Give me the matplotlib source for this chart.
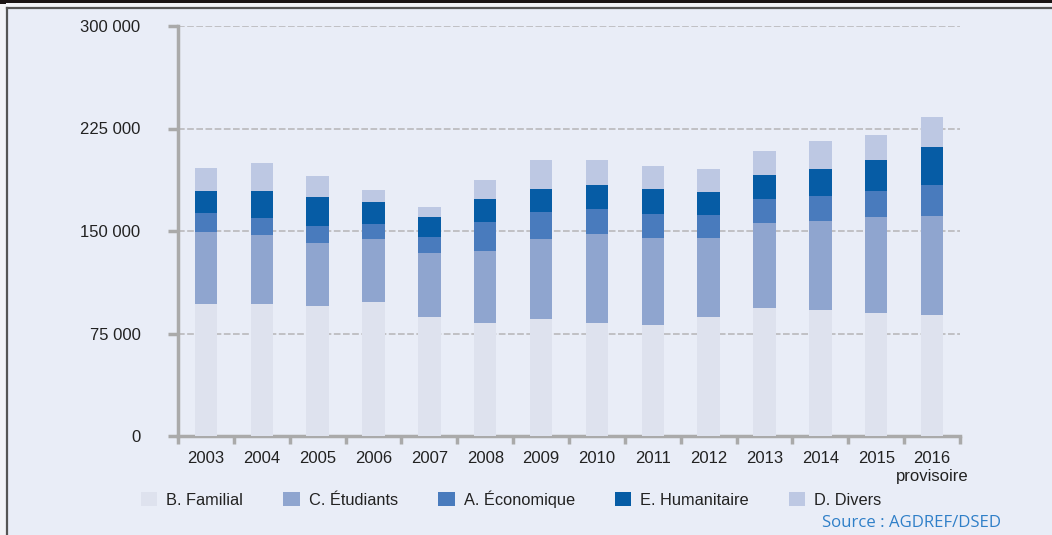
import matplotlib
matplotlib.use("Agg")
import matplotlib.pyplot as plt
from matplotlib.patches import Rectangle
from matplotlib.lines import Line2D
import numpy as np

plt.rcParams['font.family'] = ['Liberation Sans', 'DejaVu Sans']

years = ["2003", "2004", "2005", "2006", "2007", "2008", "2009", "2010",
         "2011", "2012", "2013", "2014", "2015", "2016\nprovisoire"]
familial = [96400, 96400, 94900, 97800, 86900, 82500, 85400, 82500,
            81000, 86900, 93400, 92000, 89800, 88300]
etudiants = [52600, 50400, 46000, 46000, 46700, 52600, 58400, 65000,
             64200, 57700, 62800, 65000, 70100, 73000]
economique = [13900, 12400, 12400, 11000, 11700, 21200, 20400, 18300,
              17500, 16800, 17500, 18300, 19700, 22600]
humanitaire = [16100, 20400, 21900, 16100, 14600, 16800, 16800, 17500,
               18300, 17500, 17500, 20400, 22600, 27700]
divers = [16800, 20400, 15300, 8800, 8000, 13900, 21200, 18300,
          16800, 16800, 17500, 20400, 18300, 21900]

series = [("B. Familial", familial, "#DEE2EE"),
          ("C. Étudiants", etudiants, "#8FA5CF"),
          ("A. Économique", economique, "#497BBD"),
          ("E. Humanitaire", humanitaire, "#065CA5"),
          ("D. Divers", divers, "#BDC8E3")]

bg = "#E9EDF7"
W, H = 1052, 535
fig = plt.figure(figsize=(W / 100, H / 100), dpi=100)
fig.patch.set_facecolor(bg)

# frame decorations
fig.add_artist(Rectangle((0, 1 - 3.5 / H), 1, 3.5 / H, transform=fig.transFigure,
                         facecolor="#1A1414", edgecolor="none"))
fig.add_artist(Rectangle((0, 0), 6 / W, 1 - 3.5 / H, transform=fig.transFigure,
                         facecolor="#F2F3F7", edgecolor="none"))
fig.add_artist(Rectangle((6 / W, 1 - 9 / H), 1, 5.5 / H, transform=fig.transFigure,
                         facecolor="#F2F3F7", edgecolor="none"))
fig.add_artist(Line2D([6.5 / W, 6.5 / W], [0, 1 - 8 / H], transform=fig.transFigure,
                      color="#555555", lw=1.6))
fig.add_artist(Line2D([6.5 / W, 1], [1 - 8 / H, 1 - 8 / H], transform=fig.transFigure,
                      color="#555555", lw=1.6))

left, right = 178 / W, 960 / W
bottom, top = 1 - 436 / H, 1 - 26 / H
ax = fig.add_axes([left, bottom, right - left, top - bottom])
ax.set_facecolor(bg)

x = np.arange(len(years))
base = np.zeros(len(years))
handles = []
for name, vals, col in series:
    ax.bar(x, vals, width=0.4, bottom=base, color=col, edgecolor="none", zorder=3)
    base = base + np.array(vals)
    handles.append(Rectangle((0, 0), 1, 1, facecolor=col, edgecolor="none", label=name))

ax.set_xlim(-0.5, len(years) - 0.5)
ax.set_ylim(0, 300000)
yt = [0, 75000, 150000, 225000, 300000]
ax.set_yticks(yt)
ax.set_yticklabels([f"{v:,}".replace(",", " ") for v in yt])
for v in yt[1:]:
    ax.axhline(v, color="#B9B9BB", lw=1.2, ls=(0, (4, 1.5)), zorder=1)

ax.set_xticks(x)
ax.set_xticklabels(years)
ax.set_xticks(np.arange(-0.5, len(years)), minor=True)
ax.tick_params(axis="x", which="major", length=0, pad=11, labelsize=12, colors="#222222")
ax.tick_params(axis="x", which="minor", length=6, width=2.5, color="#AAAAAA")
ax.tick_params(axis="y", which="major", length=7, width=2.5, color="#AAAAAA",
               pad=20, labelsize=12, labelcolor="#222222")

for s in ["top", "right"]:
    ax.spines[s].set_visible(False)
for s in ["left", "bottom"]:
    ax.spines[s].set_color("#AAAAAA")
    ax.spines[s].set_linewidth(2.5)

fs = 11.8
fig.legend(handles=handles, loc="center left", bbox_to_anchor=(141 / W, 1 - 499 / H),
           ncol=5, frameon=False, fontsize=fs, handlelength=1.0, handleheight=1.0,
           handletextpad=0.55, columnspacing=2.45, borderaxespad=0, borderpad=0,
           labelcolor="#222222")

fig.text(1001 / W, 1 - 523 / H, "Source : AGDREF/DSED", ha="right", va="center",
         color="#2F7FC8", fontsize=12.1, family=["Open Sans", "DejaVu Sans"])

fig.savefig("out.png", dpi=100, facecolor=fig.get_facecolor())
